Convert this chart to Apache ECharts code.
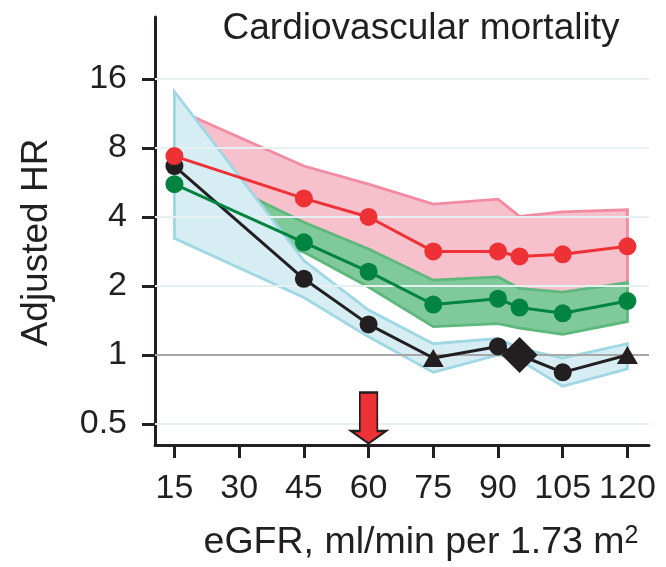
<!doctype html>
<html>
<head>
<meta charset="UTF-8">
<title>Cardiovascular mortality</title>
<script src="https://cdn.jsdelivr.net/npm/echarts@6/dist/echarts.min.js"></script>
<style>
  html, body { margin: 0; padding: 0; background: #fff; }
  #main { width: 666px; height: 567px; }
</style>
</head>
<body>
<div id="main"></div>
<script>
// eGFR categories (x) and adjusted HR
var eGFR = [15, 45, 60, 75, 90, 95, 105, 120];
var xTicks = [15, 30, 45, 60, 75, 90, 105, 120];
var yTicks = [0.5, 1, 2, 4, 8, 16];

var redHR   = [7.37, 4.82, 4.00, 2.83, 2.83, 2.69, 2.75, 2.98];
var redHi   = [11.9, 6.67, 5.56, 4.55, 4.78, 4.02, 4.21, 4.30];
var redLo   = [5.00, 3.30, 2.40, 1.70, 1.80, 1.60, 1.55, 1.75];

var greenHR = [5.56, 3.10, 2.31, 1.66, 1.76, 1.61, 1.52, 1.72];
var greenHi = [7.13, 3.79, 2.90, 2.12, 2.19, 1.95, 1.88, 2.07];
var greenLo = [4.50, 2.81, 1.98, 1.33, 1.37, 1.31, 1.23, 1.40];

var blackHR = [6.67, 2.15, 1.36, 0.97, 1.09, 1.00, 0.84, 1.00];
var blackHi = [14.1, 2.58, 1.57, 1.12, 1.18, 1.07, 0.97, 1.12];
var blackLo = [3.23, 1.78, 1.20, 0.84, 1.00, 0.95, 0.73, 0.87];
var blackShape = ['circle', 'circle', 'circle', 'triangle', 'circle', 'diamond', 'circle', 'triangle'];

var arrowAt = 60;

var FONT = '"Liberation Sans", Arial, Helvetica, sans-serif';
var INK = '#231f20';
var yMin = Math.log2(0.405), yMax = Math.log2(29.8);

function lg(v) { return Math.log2(v); }

function band(hi, lo, fill, stroke, z) {
  var d = eGFR.map(function (x, i) { return [x, lg(lo[i]), lg(hi[i])]; });
  return {
    type: 'custom', z: z, silent: true, data: d,
    renderItem: function (params, api) {
      if (params.dataIndex !== 0) return;
      var pts = [];
      for (var i = 0; i < d.length; i++) pts.push(api.coord([d[i][0], d[i][2]]));
      for (var j = d.length - 1; j >= 0; j--) pts.push(api.coord([d[j][0], d[j][1]]));
      return { type: 'polygon', shape: { points: pts },
        style: { fill: fill, stroke: stroke, lineWidth: 2.8, lineJoin: 'miter' } };
    }
  };
}

function line(hr, color, z, shapes) {
  return {
    type: 'line', z: z, silent: true,
    data: eGFR.map(function (x, i) {
      var item = { value: [x, lg(hr[i])] };
      if (shapes) {
        item.symbol = shapes[i];
        item.symbolSize = shapes[i] === 'diamond' ? 36 : (shapes[i] === 'triangle' ? [21, 18] : 18);
      }
      return item;
    }),
    symbol: 'circle', symbolSize: 18, showAllSymbol: true,
    lineStyle: { color: color, width: 3 },
    itemStyle: { color: color }
  };
}

var myChart = echarts.init(document.getElementById('main'));
var option = {
  animation: false,
  backgroundColor: '#fff',
  title: {
    text: 'Cardiovascular mortality',
    left: 416, top: 5, textAlign: 'center',
    textStyle: { fontFamily: FONT, fontSize: 37, fontWeight: 'normal', color: INK }
  },
  grid: { left: 155, right: 17, top: 17, bottom: 120 },
  xAxis: {
    type: 'value', min: 10.5, max: 125,
    name: 'eGFR, ml/min per 1.73 m{sup|2}',
    nameLocation: 'middle', nameGap: 79,
    nameTextStyle: {
      fontFamily: FONT, fontSize: 37.5, color: INK, padding: [0, 0, 0, 38],
      lineHeight: 38,
      rich: { sup: { fontFamily: FONT, fontSize: 25, color: INK, verticalAlign: 'top', lineHeight: 34 } }
    },
    axisLine: { onZero: false, lineStyle: { color: INK, width: 3 } },
    axisTick: { customValues: xTicks, length: 13, lineStyle: { color: INK, width: 3 } },
    axisLabel: { customValues: xTicks, margin: 27, fontFamily: FONT, fontSize: 34, color: INK },
    splitLine: { show: false }
  },
  yAxis: {
    type: 'value', min: yMin, max: yMax,
    name: 'Adjusted HR',
    nameLocation: 'middle', nameGap: 100,
    nameTextStyle: { fontFamily: FONT, fontSize: 37, color: INK, padding: [0, 23, 0, 0] },
    axisLine: { onZero: false, lineStyle: { color: INK, width: 3 } },
    axisTick: { customValues: yTicks.map(lg), length: 13, lineStyle: { color: INK, width: 3 } },
    axisLabel: {
      customValues: yTicks.map(lg), margin: 28, fontFamily: FONT, fontSize: 34, color: INK,
      formatter: function (v) { return String(Math.round(Math.pow(2, v) * 100) / 100); }
    },
    splitLine: { show: false }
  },
  series: [
    {
      type: 'line', z: 1, silent: true, data: [],
      markLine: {
        silent: true, symbol: 'none', label: { show: false },
        data: yTicks.map(function (t) {
          return { yAxis: lg(t), lineStyle: { color: t === 1 ? '#a7a7a7' : '#e4f0f2', width: 2, type: 'solid' } };
        })
      }
    },
    band(redHi, redLo, '#f6c0cc', '#f28ba1', 2),
    band(greenHi, greenLo, '#80c99b', '#5cb87b', 3),
    band(blackHi, blackLo, '#d5edf3', '#9fd7e5', 4),
    line(blackHR, INK, 5, blackShape),
    line(greenHR, '#00843f', 6),
    line(redHR, '#ee3135', 7),
    {
      type: 'line', z: 8, silent: true, data: [],
      markPoint: {
        silent: true,
        data: [{
          coord: [arrowAt, yMin],
          symbol: 'path://M8.5,0 L25.5,0 L25.5,37 L34,37 L17,49 L0,37 L8.5,37 Z',
          symbolSize: [35, 51], symbolKeepAspect: false, symbolOffset: [0, -27],
          itemStyle: { color: '#ee3135', borderColor: INK, borderWidth: 2 },
          label: { show: false }
        }]
      }
    }
  ]
};
myChart.setOption(option);
window.onresize = function () { myChart.resize(); };
</script>
</body>
</html>
